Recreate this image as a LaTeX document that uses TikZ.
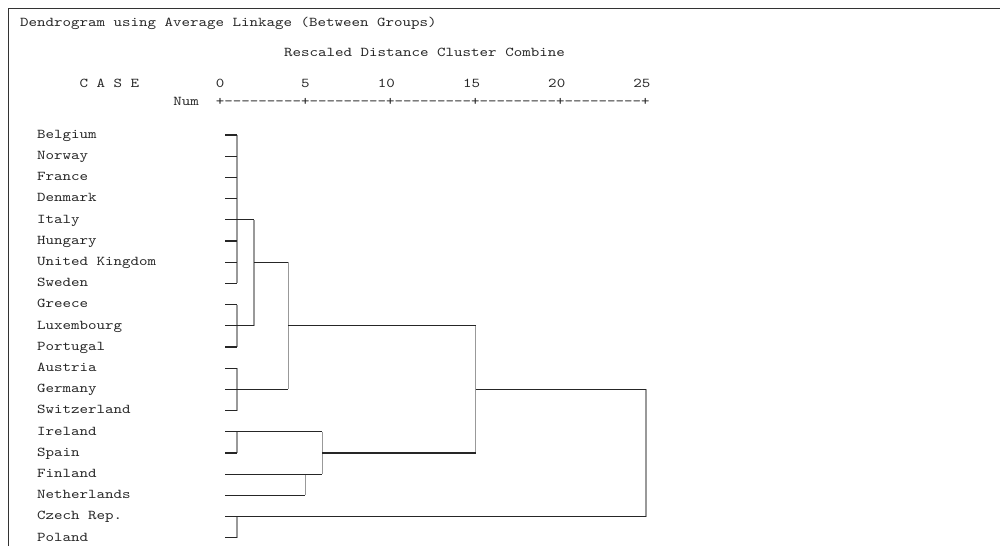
\documentclass[tikz,border=0pt]{standalone}
\usepackage{fontspec}
\newfontfamily\mono[Ligatures=TeXOff,FakeStretch=1.2]{lmmono10-regular.otf}
\begin{document}
\begin{tikzpicture}[x=1pt,y=-1pt,
  txt/.style={font=\mono\fontsize{13.5}{16}\selectfont, anchor=base west, inner sep=0pt, outer sep=0pt, text=black!85},
  hline/.style={line width=1.2pt, black!85},
  vline/.style={line width=1.2pt, black!40},
  frame/.style={line width=1.8pt, black!80}]
\useasboundingbox (0,0) rectangle (1000,546);
% frame
\draw[frame] (8.5,546) -- (8.5,8.5) -- (1000,8.5);
% header
\node[txt] (title) at ({20+8.52*0},26) {Dendrogram using Average Linkage (Between Groups)};
\node[txt] (rescaled) at ({20+8.52*31},56.5) {Rescaled Distance Cluster Combine};
\node[txt] (case) at ({20+8.52*7},87.5) {C A S E};
\node[txt] (n0) at ({20+8.52*23},87.5) {0};
\node[txt] (n5) at ({20+8.52*33},87.5) {5};
\node[txt] (n10) at ({20+8.52*42},87.5) {10};
\node[txt] (n15) at ({20+8.52*52},87.5) {15};
\node[txt] (n20) at ({20+8.52*62},87.5) {20};
\node[txt] (n25) at ({20+8.52*72},87.5) {25};
\node[txt] (num) at ({20+8.52*18},105.5) {Num};
\node[txt] (ruler) at ({20+8.52*23},105.5) {+---------+---------+---------+---------+---------+};
% case labels and row anchors
\foreach \nm [count=\i from 0] in {Belgium,Norway,France,Denmark,Italy,Hungary,United Kingdom,Sweden,Greece,Luxembourg,Portugal,Austria,Germany,Switzerland,Ireland,Spain,Finland,Netherlands,Czech Rep.,Poland}{
  \node[txt] (L\i) at ({20+8.52*2},{135+21.2*\i+3.3}) {\nm};
  \coordinate (r\i) at (225,{135+21.2*\i});
}
% distance columns
\foreach \d in {1,2,4,5,6,15,25}{
  \coordinate (d\d) at ({220+17.04*\d},0);
}
% vertical joins
\draw[vline] (r0 -| d1) -- (r7 -| d1);
\draw[vline] (r8 -| d1) -- (r10 -| d1);
\draw[vline] (r11 -| d1) -- (r13 -| d1);
\draw[vline] (r14 -| d1) -- (r15 -| d1);
\draw[vline] (r18 -| d1) -- (r19 -| d1);
\draw[vline] (r4 -| d2) -- (r9 -| d2);
\draw[vline] (r6 -| d4) -- (r12 -| d4);
\draw[vline] (r16 -| d5) -- (r17 -| d5);
\draw[vline] (r14 -| d6) -- (r16 -| d6);
\draw[vline] (r9 -| d15) -- (r15 -| d15);
\draw[vline] (r12 -| d25) -- (r18 -| d25);
% leaf ticks
\foreach \i in {0,...,19}{
  \draw[hline] (r\i) -- (r\i -| d1);
}
% horizontal links
\draw[hline] (r4) -- (r4 -| d2);
\draw[hline] (r9) -- (r9 -| d2);
\draw[hline] (r6 -| d2) -- (r6 -| d4);
\draw[hline] (r12) -- (r12 -| d4);
\draw[hline] (r9 -| d4) -- (r9 -| d15);
\draw[hline] (r14) -- (r14 -| d6);
\draw[hline] (r16) -- (r16 -| d6);
\draw[hline] (r17) -- (r17 -| d5);
\draw[hline] (r15 -| d6) -- (r15 -| d15);
\draw[hline] (r12 -| d15) -- (r12 -| d25);
\draw[hline] (r18) -- (r18 -| d25);
\end{tikzpicture}
\end{document}
